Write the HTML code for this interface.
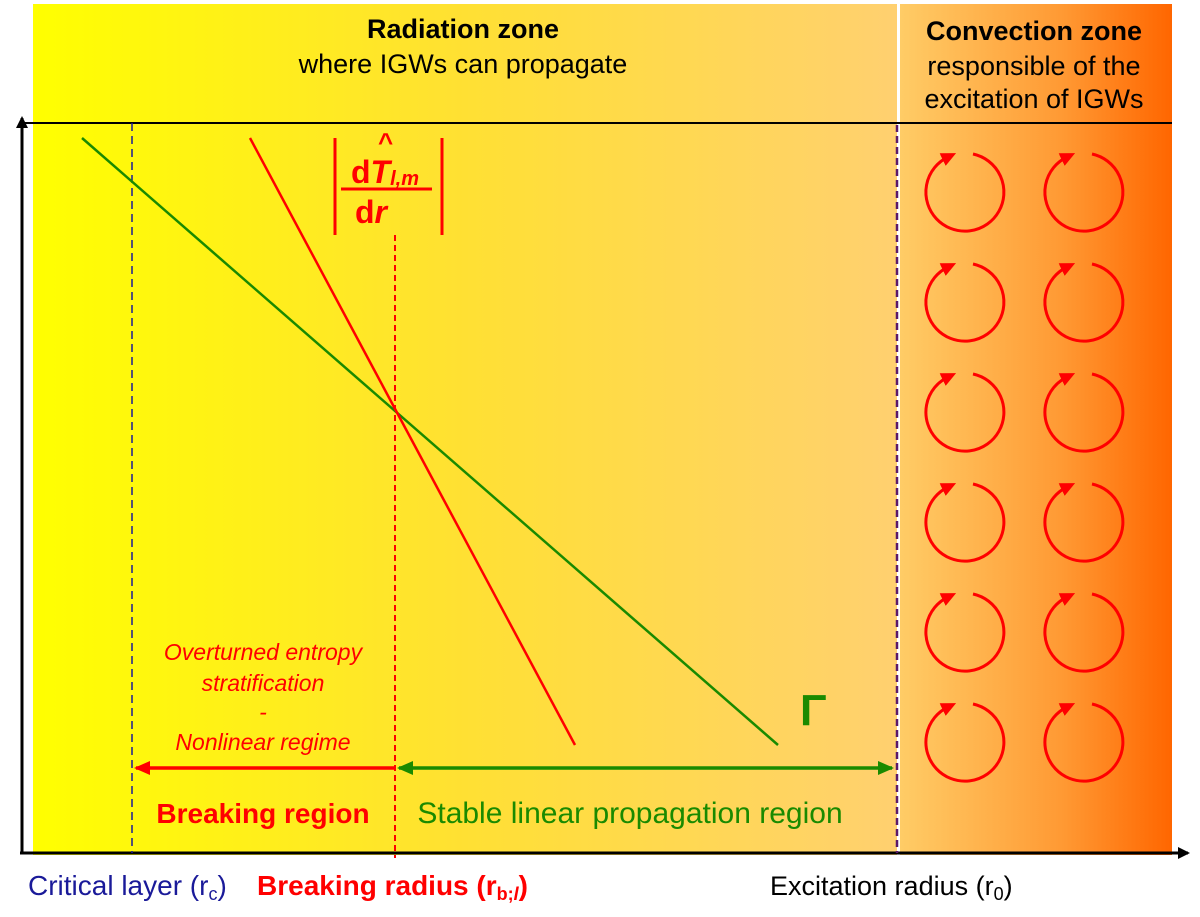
<!DOCTYPE html>
<html><head><style>
body{margin:0;width:1200px;height:912px;background:#fff;overflow:hidden;font-family:"Liberation Sans",Arial,sans-serif}
</style></head><body>
<svg width="1200" height="912" viewBox="0 0 1200 912" xmlns="http://www.w3.org/2000/svg" font-family="Liberation Sans, Arial, sans-serif">
<defs>
<linearGradient id="y" x1="0" x2="1"><stop offset="0" stop-color="#ffff00"/><stop offset="0.5" stop-color="#ffe033"/><stop offset="1" stop-color="#ffd070"/></linearGradient>
<linearGradient id="o" x1="0" x2="1"><stop offset="0" stop-color="#ffcc66"/><stop offset="0.6" stop-color="#ff9933"/><stop offset="1" stop-color="#ff6600"/></linearGradient>
<marker id="ar" markerWidth="16" markerHeight="16" refX="14" refY="8" orient="auto" markerUnits="userSpaceOnUse"><path d="M0,1 L16,8 L0,15 z" fill="#ff0000"/></marker>
<marker id="ag" markerWidth="16" markerHeight="16" refX="14" refY="8" orient="auto-start-reverse" markerUnits="userSpaceOnUse"><path d="M0,1 L16,8 L0,15 z" fill="#1a8a00"/></marker>
<marker id="ab" markerWidth="12" markerHeight="12" refX="10" refY="6" orient="auto" markerUnits="userSpaceOnUse"><path d="M0,0 L12,6 L0,12 z" fill="#000"/></marker>
<marker id="ac" markerWidth="16" markerHeight="16" refX="6" refY="8" orient="auto" markerUnits="userSpaceOnUse"><path d="M0,1 L15,8 L0,15 z" fill="#ff0000"/></marker>
<path id="c" d="M973,154 A39,39 0 1 1 948,157" fill="none" stroke="#ff0000" stroke-width="3" marker-end="url(#ac)"/>
</defs>
<rect x="33" y="4" width="864" height="851" fill="url(#y)"/>
<rect x="897" y="4" width="3" height="851" fill="#fff"/>
<rect x="900" y="4" width="272" height="851" fill="url(#o)"/>
<line x1="20" y1="123" x2="1172" y2="123" stroke="#000" stroke-width="2"/>
<text x="463" y="38" font-size="27" font-weight="bold" text-anchor="middle">Radiation zone</text>
<text x="463" y="73" font-size="27" text-anchor="middle">where IGWs can propagate</text>
<text x="1034" y="40" font-size="27" font-weight="bold" text-anchor="middle">Convection zone</text>
<text x="1034" y="75" font-size="27" text-anchor="middle">responsible of the</text>
<text x="1034" y="108" font-size="27" text-anchor="middle">excitation of IGWs</text>
<!-- axes -->
<line x1="22" y1="853" x2="22" y2="118" stroke="#000" stroke-width="3" marker-end="url(#ab)"/>
<line x1="20" y1="853" x2="1188" y2="853" stroke="#000" stroke-width="3" marker-end="url(#ab)"/>
<!-- dashed verticals -->
<line x1="132" y1="123" x2="132" y2="853" stroke="#1a1a99" stroke-width="1.5" stroke-dasharray="8,5"/>
<line x1="395" y1="235" x2="395" y2="858" stroke="#ff0000" stroke-width="2" stroke-dasharray="6,4"/>
<line x1="897" y1="125" x2="897" y2="853" stroke="#5a1a6a" stroke-width="2.5" stroke-dasharray="7,4"/>
<!-- lines -->
<line x1="82" y1="138" x2="778" y2="745" stroke="#1a8a00" stroke-width="2.5"/>
<line x1="250" y1="138" x2="575" y2="745" stroke="#ff0000" stroke-width="2.5"/>
<!-- formula -->
<g fill="#ff0000" font-weight="bold">
<line x1="335" y1="138" x2="335" y2="235" stroke="#ff0000" stroke-width="3"/>
<line x1="442" y1="138" x2="442" y2="235" stroke="#ff0000" stroke-width="3"/>
<line x1="341" y1="189" x2="432" y2="189" stroke="#ff0000" stroke-width="3"/>
<text x="351" y="183" font-size="32">d<tspan font-style="italic">T</tspan><tspan font-size="20" font-style="italic" dy="2">l,m</tspan></text>
<text x="378" y="151" font-size="26">^</text>
<text x="355" y="223" font-size="32">d<tspan font-style="italic">r</tspan></text>
</g>
<text x="800" y="725" font-size="44" font-weight="bold" fill="#1a8a00">Γ</text>
<!-- left labels -->
<g fill="#ff0000" font-size="23" font-style="italic" text-anchor="middle">
<text x="263" y="660">Overturned entropy</text>
<text x="263" y="691">stratification</text>
<text x="263" y="720">-</text>
<text x="263" y="750">Nonlinear regime</text>
</g>
<line x1="395" y1="768" x2="136" y2="768" stroke="#ff0000" stroke-width="3.5" marker-end="url(#ar)"/>
<line x1="399" y1="768" x2="892" y2="768" stroke="#1a8a00" stroke-width="3.5" marker-start="url(#ag)" marker-end="url(#ag)"/>
<text x="263" y="823" font-size="28" font-weight="bold" fill="#ff0000" text-anchor="middle">Breaking region</text>
<text x="630" y="823" font-size="30" fill="#1a8a00" text-anchor="middle">Stable linear propagation region</text>
<!-- bottom labels -->
<text x="28" y="895" font-size="28" fill="#1a1a99">Critical layer (r<tspan font-size="18" dy="5">c</tspan><tspan dy="-5">)</tspan></text>
<text x="257" y="895" font-size="28" font-weight="bold" fill="#ff0000">Breaking radius (r<tspan font-size="18" dy="5">b;<tspan font-style="italic">l</tspan></tspan><tspan dy="-5">)</tspan></text>
<text x="770" y="895" font-size="27" fill="#000">Excitation radius (r<tspan font-size="18" dy="5">0</tspan><tspan dy="-5">)</tspan></text>
<!-- circles -->
<use href="#c"/><use href="#c" y="110"/><use href="#c" y="220"/><use href="#c" y="330"/><use href="#c" y="440"/><use href="#c" y="550"/>
<use href="#c" x="119"/><use href="#c" x="119" y="110"/><use href="#c" x="119" y="220"/><use href="#c" x="119" y="330"/><use href="#c" x="119" y="440"/><use href="#c" x="119" y="550"/>
</svg>
</body></html>
